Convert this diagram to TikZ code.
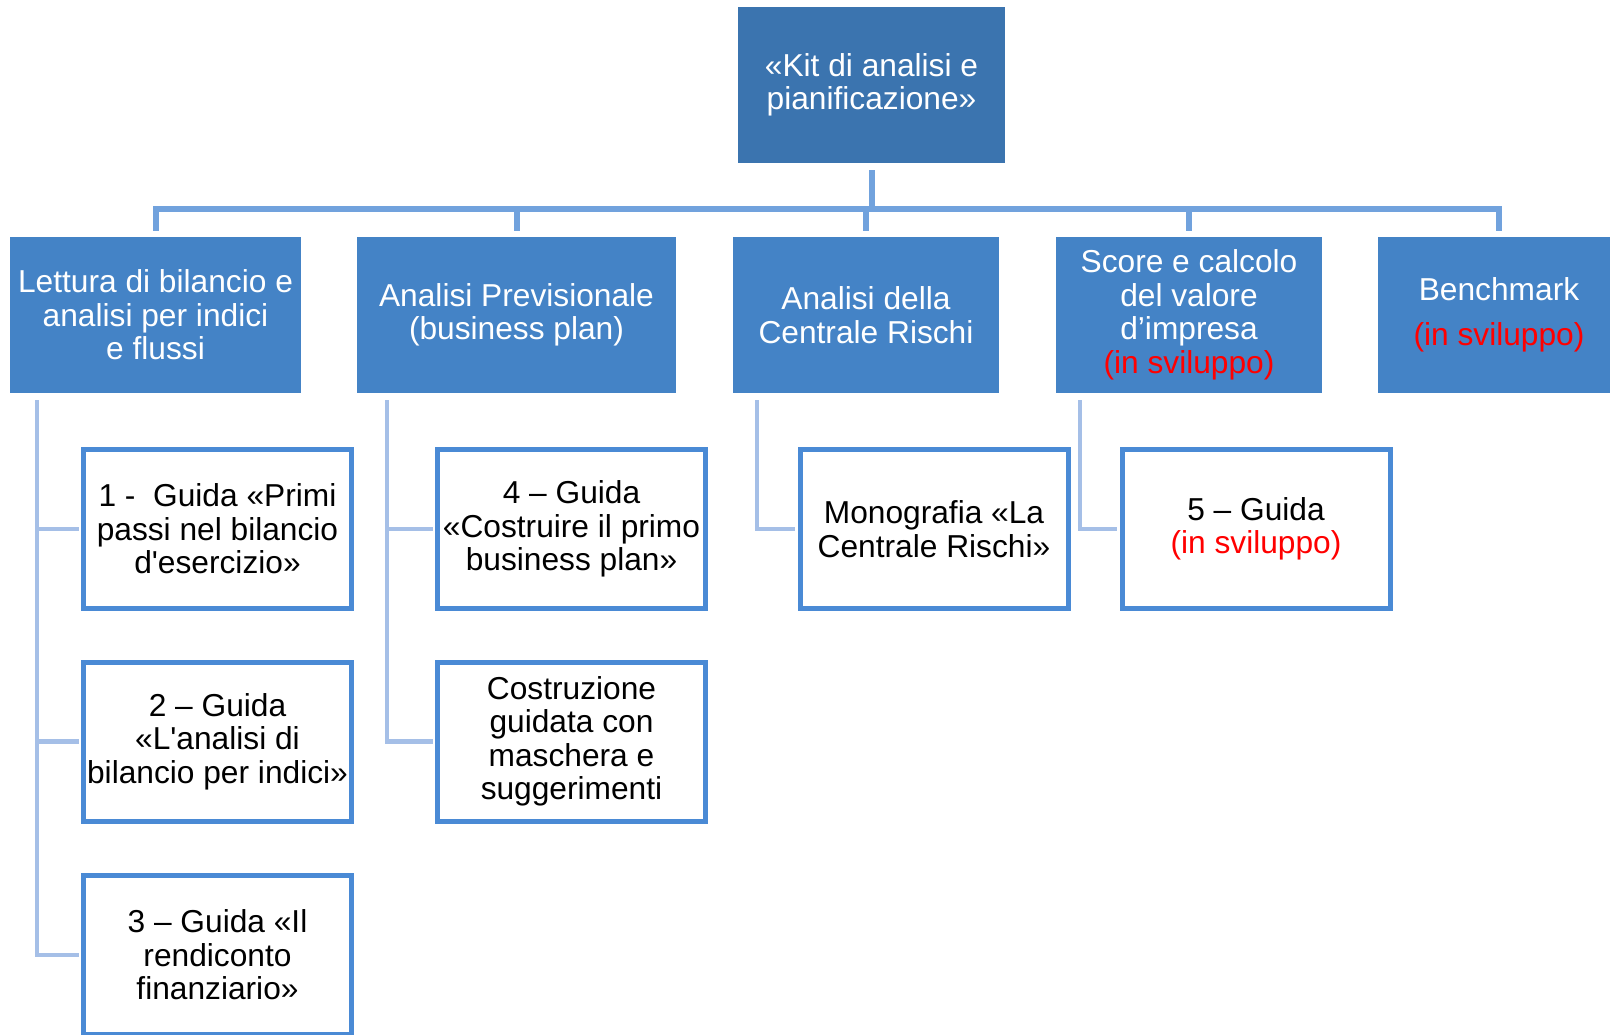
\documentclass[tikz,border=0pt]{standalone}
\usepackage{fontspec}
\setmainfont{Liberation Sans}
\definecolor{kitblue}{HTML}{3B74AF}
\definecolor{areablue}{HTML}{4483C6}
\definecolor{guideblue}{HTML}{4A8AD5}
\definecolor{busblue}{HTML}{71A2DD}
\definecolor{stemblue}{HTML}{A5BFE7}
\definecolor{todored}{HTML}{FF0000}
\newcommand{\todo}[1]{\textcolor{todored}{#1}}
\begin{document}
\begin{tikzpicture}[x=1pt,y=-1pt,
    font=\fontsize{31.7}{33.5}\selectfont,
    kitbox/.style={fill=kitblue,text=white,align=center,inner sep=0pt,
        minimum width=267pt,minimum height=156pt},
    areabox/.style={fill=areablue,text=white,align=center,inner sep=0pt,
        minimum width=#1,minimum height=156pt},
    guidebox/.style={draw=guideblue,line width=5pt,fill=white,align=center,
        inner sep=0pt,minimum width=268pt,minimum height=159pt},
    bus/.style={draw=busblue,line width=6pt,shorten <=7pt,shorten >=6pt},
    stem/.style={draw=stemblue,line width=4.5pt,shorten >=2.5pt}]

    \useasboundingbox (0,0) rectangle (1610,1035);

    \node[kitbox] (kit) at (871.5,85) {«Kit di analisi e\\pianificazione»};

    \node[areabox=291pt] (lettura) at (155.5,315) {Lettura di bilancio e\\analisi per indici\\e flussi};
    \node[areabox=319pt] (previsionale) at (516.5,315) {Analisi Previsionale\\(business plan)};
    \node[areabox=266pt] (centrale) at (866,315) {Analisi della\\Centrale Rischi};
    \node[areabox=266pt] (score) at (1189,315) {Score e calcolo\\del valore\\d’impresa\\\todo{(in sviluppo)}};
    \node[areabox=242pt] (benchmark) at (1499,315) {Benchmark\\[12pt]\todo{(in sviluppo)}};

    \foreach \area in {lettura,previsionale,centrale,score,benchmark}
        \draw[bus] (kit.south) -- ++(0,46) -| (\area.north);

    \node[guidebox] (guidaUno) at (217.5,529) {1 -\ \ Guida «Primi\\passi nel bilancio\\d\textquotesingle esercizio»};
    \node[guidebox] (guidaDue) at (217.5,741.5) {2 – Guida\\«L\textquotesingle analisi di\\bilancio per indici»};
    \node[guidebox] (guidaTre) at (217.5,955) {3 – Guida «Il\\rendiconto\\finanziario»};
    \node[guidebox] (guidaQuattro) at (571.5,529) {4 – Guida\\«Costruire il primo\\business plan»};
    \node[guidebox] (maschera) at (571.5,741.5) {Costruzione\\guidata con\\maschera e\\suggerimenti};
    \node[guidebox] (monografia) at (934,529) {Monografia «La\\Centrale Rischi»};
    \node[guidebox] (guidaCinque) at (1256,529) {5 – Guida\\\todo{(in sviluppo)}};

    \draw[stem] ([xshift=27pt,yshift=-7pt]lettura.south west) |- (guidaUno.west);
    \draw[stem] ([xshift=27pt,yshift=-7pt]lettura.south west) |- (guidaDue.west);
    \draw[stem] ([xshift=27pt,yshift=-7pt]lettura.south west) |- (guidaTre.west);
    \draw[stem] ([xshift=30pt,yshift=-7pt]previsionale.south west) |- (guidaQuattro.west);
    \draw[stem] ([xshift=30pt,yshift=-7pt]previsionale.south west) |- (maschera.west);
    \draw[stem] ([xshift=24pt,yshift=-7pt]centrale.south west) |- (monografia.west);
    \draw[stem] ([xshift=24pt,yshift=-7pt]score.south west) |- (guidaCinque.west);

\end{tikzpicture}
\end{document}
